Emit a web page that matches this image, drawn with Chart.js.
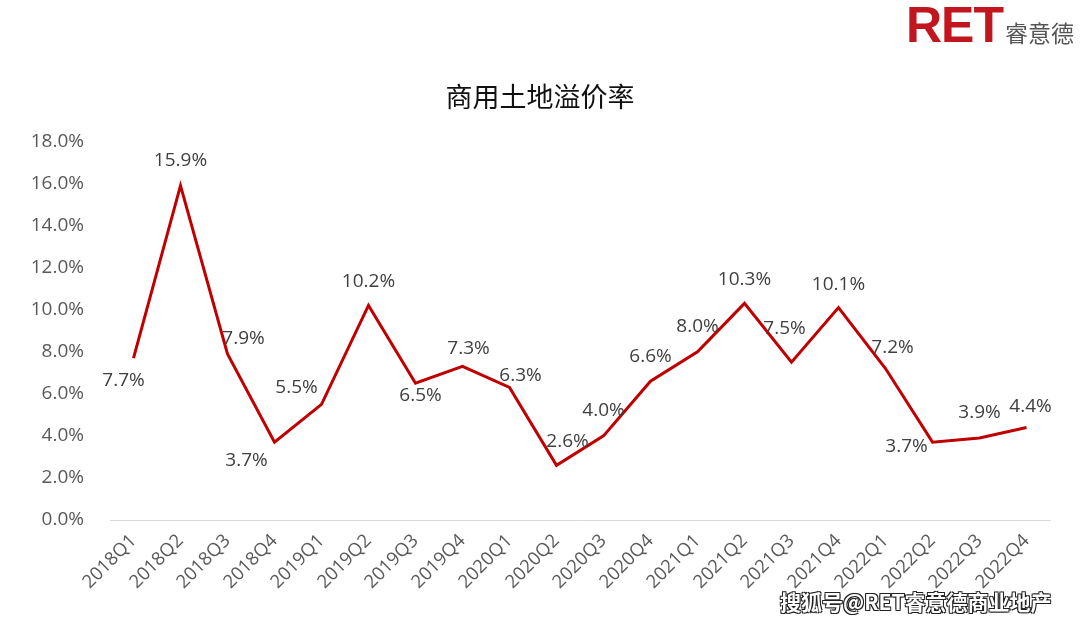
<!DOCTYPE html>
<html>
<head>
<meta charset="utf-8">
<script src="https://cdn.jsdelivr.net/npm/chart.js@4/dist/chart.umd.min.js"></script>
<style>
  html, body { margin: 0; padding: 0; background: #fff; }
  #wrap { position: relative; width: 1080px; height: 624px; }
  #logo { position: absolute; left: 906px; top: -4px; white-space: nowrap; }
  #logo .ret { font-family: "Liberation Sans", Arial, sans-serif; font-weight: bold; font-size: 50px; color: #c1161d; letter-spacing: -1px; }
  #logo .cn { font-family: "Noto Sans CJK SC", sans-serif; font-size: 23px; color: #555; margin-left: 2px; }
  #mark { position: absolute; left: 780px; top: 586px; font-family: "Noto Sans CJK SC", sans-serif; font-weight: bold; font-size: 21px; color: #fff;
          text-shadow: -1px -1px 0 #222, 1px -1px 0 #222, -1px 1px 0 #222, 1px 1px 0 #222; white-space: nowrap; }
</style>
</head>
<body>
<div id="wrap">
  <canvas id="chart" width="1080" height="624"></canvas>
  <div id="logo"><span class="ret">RET</span><span class="cn">睿意德</span></div>
  <div id="mark">搜狐号@RET睿意德商业地产</div>
</div>
<script>
const quarters = ['2018Q1', '2018Q2', '2018Q3', '2018Q4', '2019Q1', '2019Q2', '2019Q3', '2019Q4', '2020Q1', '2020Q2',
                  '2020Q3', '2020Q4', '2021Q1', '2021Q2', '2021Q3', '2021Q4', '2022Q1', '2022Q2', '2022Q3', '2022Q4'];
const premiumRate = [7.7, 15.9, 7.9, 3.7, 5.5, 10.2, 6.5, 7.3, 6.3, 2.6, 4.0, 6.6, 8.0, 10.3, 7.5, 10.1, 7.2, 3.7, 3.9, 4.4];
const yTicks = [0, 2, 4, 6, 8, 10, 12, 14, 16, 18];

// where each value label sits relative to its point (px)
const labelShift = [[-10, 23], [0, -25], [16, -15], [-28, 18], [-25, -17], [0, -24], [5, 12], [6, -18], [11, -12], [11, -24],
                    [0, -25], [0, -25], [0, -25], [0, -24], [-7, -34], [0, -23], [7, -21], [-26, 4], [0, -25], [4, -21]];

const valueLabels = {
    id: 'valueLabels',
    afterDatasetsDraw(chart) {
        const ctx = chart.ctx;
        const meta = chart.getDatasetMeta(0);
        ctx.save();
        ctx.font = '19px "Open Sans", "Noto Sans", sans-serif';
        ctx.fillStyle = '#404040';
        ctx.textAlign = 'center';
        ctx.textBaseline = 'middle';
        meta.data.forEach((pt, i) => {
            const [dx, dy] = labelShift[i];
            ctx.fillText(premiumRate[i].toFixed(1) + '%', pt.x + dx, pt.y + dy);
        });
        ctx.restore();
    }
};

new Chart(document.getElementById('chart').getContext('2d'), {
    type: 'line',
    data: {
        labels: quarters,
        datasets: [{
            data: premiumRate,
            borderColor: '#c00000',
            borderWidth: 3,
            pointRadius: 0,
            tension: 0,
            fill: false
        }]
    },
    options: {
        responsive: false,
        animation: false,
        layout: { padding: { left: 30, right: 30, top: 0, bottom: 0 } },
        plugins: {
            legend: { display: false },
            tooltip: { enabled: false },
            title: {
                display: true,
                text: '商用土地溢价率',
                color: '#111',
                font: { family: '"Noto Sans CJK SC", sans-serif', size: 27, weight: 'normal', lineHeight: 1.2 },
                padding: { top: 81, bottom: 28 }
            }
        },
        scales: {
            x: {
                offset: true,
                grid: { display: false },
                border: { display: true, color: '#d9d9d9', width: 1 },
                ticks: {
                    color: '#595959',
                    font: { family: '"Open Sans", "Noto Sans", sans-serif', size: 18.5 },
                    minRotation: 45,
                    maxRotation: 45,
                    padding: 2
                },
                afterFit: s => { s.height = 104; }
            },
            y: {
                min: 0,
                max: 18,
                afterBuildTicks: s => { s.ticks = yTicks.map(v => ({ value: v })); },
                grid: { display: false },
                border: { display: false },
                ticks: {
                    color: '#595959',
                    font: { family: '"Open Sans", "Noto Sans", sans-serif', size: 19 },
                    padding: 18,
                    callback: v => v.toFixed(1) + '%'
                },
                afterFit: s => { s.width = 80; }
            }
        }
    },
    plugins: [valueLabels]
});
</script>
</body>
</html>
